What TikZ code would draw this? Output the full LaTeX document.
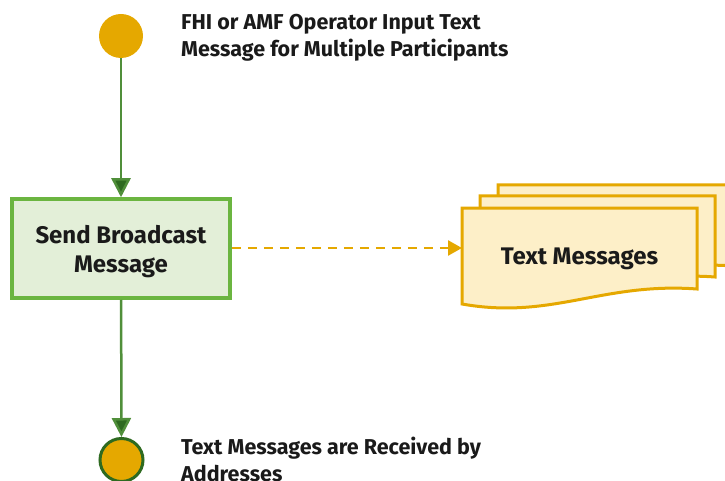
\documentclass[tikz,border=0pt]{standalone}
\usepackage{fontspec}
\setmainfont{Fira Sans}
\usepackage{tikz}
\usetikzlibrary{arrows.meta,positioning}
\definecolor{dotorange}{RGB}{229,168,0}
\definecolor{flowgreen}{RGB}{80,143,58}
\definecolor{tipgreen}{RGB}{46,106,32}
\definecolor{boxgreen}{RGB}{107,181,64}
\definecolor{boxfill}{RGB}{227,239,216}
\definecolor{docfill}{RGB}{253,239,200}
\definecolor{inktext}{RGB}{26,26,26}

\tikzset{
  docpage/.pic={
    \draw[docline] (0,0) -- (235,0) -- (235,81)
      .. controls (140,74) and (90,112) .. (0,96) -- cycle;
  }
}

\begin{document}
\begin{tikzpicture}[
  x=1pt, y=-1pt,
  txt/.style={font=\bfseries\fontsize{21.5}{27}\selectfont, text=inktext},
  bigtxt/.style={font=\bfseries\fontsize{24}{29}\selectfont, text=inktext},
  startdot/.style={circle, fill=dotorange, minimum size=44pt, inner sep=0pt},
  enddot/.style={circle, fill=dotorange, draw=tipgreen, line width=3pt, minimum size=43pt, inner sep=0pt},
  action/.style={rectangle, draw=boxgreen, fill=boxfill, line width=3.5pt, minimum width=218pt, minimum height=99pt, align=center, bigtxt},
  docline/.style={draw=dotorange, fill=docfill, line width=3pt, line join=miter},
  label/.style={anchor=north west, align=left, inner sep=0pt, txt},
  flow/.style={-{Triangle[width=19pt,length=19pt,fill=tipgreen]}, draw=flowgreen, line width=2.5pt},
  dataflow/.style={-{Triangle[width=15pt,length=14pt]}, draw=dotorange, line width=2.5pt, dash pattern=on 9pt off 7pt}
]
\useasboundingbox (0,0) rectangle (725,481);

\node[startdot] (start) at (121,36) {};
\node[label] (startlbl) at (181,14) {FHI or AMF Operator Input Text\\Message for Multiple Participants};

\node[action] (send) at (121,248.5) {\rule{0pt}{24pt}Send Broadcast\\Message};

% stacked text messages
\pic at (498,185) {docpage};
\pic at (480,196) {docpage};
\pic at (462,208) {docpage};
\node[minimum width=235pt, minimum height=80pt] (msgs) at (579.5,248) {};
\node[bigtxt] (msgslbl) at (579.5,259) {Text Messages};
\coordinate (msgsin) at (462,248);

\node[enddot] (stop) at (121.5,460) {};
\node[label] (stoplbl) at (181,437) {Text Messages are Received by\\Addresses};

\draw[flow] (start) -- (send);
\draw[flow] (send) -- (stop);
\draw[dataflow] (send.east |- msgsin) -- (msgsin);
\end{tikzpicture}
\end{document}
